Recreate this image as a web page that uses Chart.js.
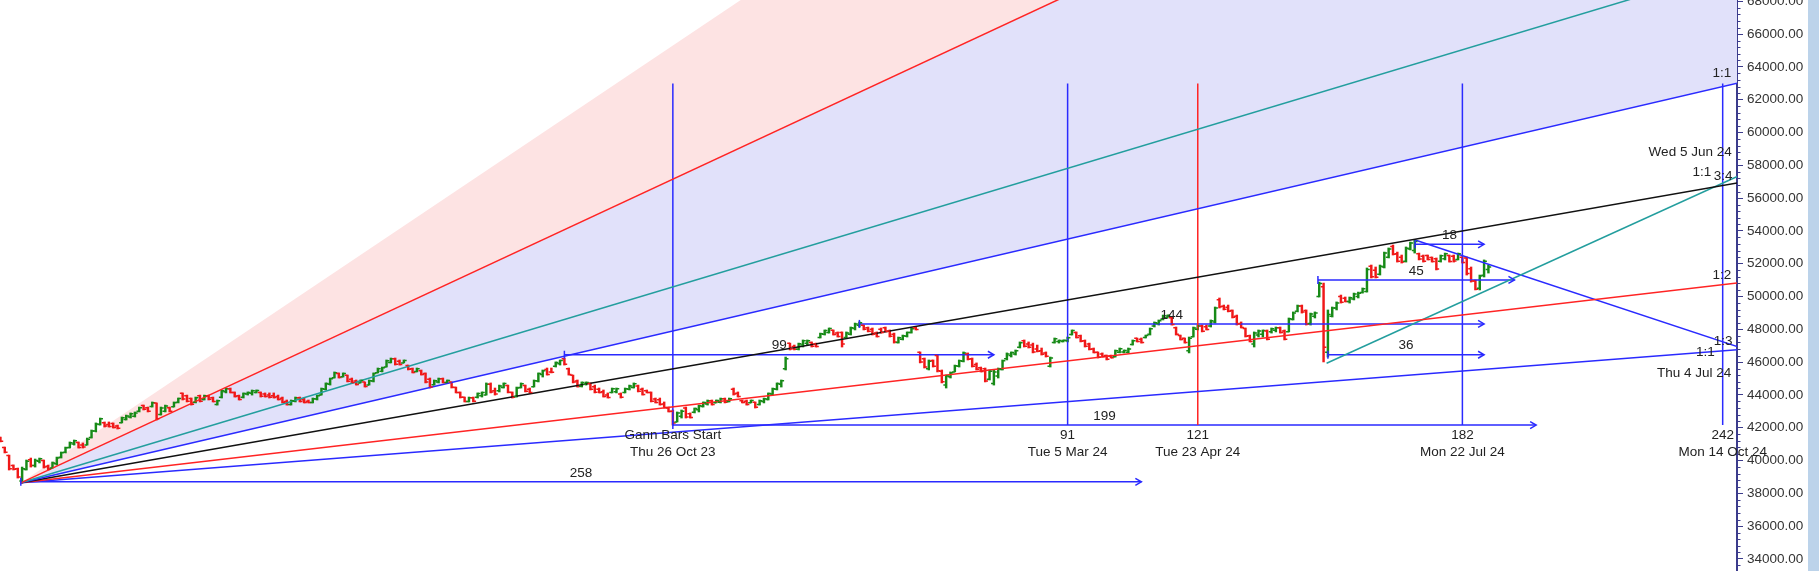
<!DOCTYPE html>
<html><head><meta charset="utf-8">
<script src="https://cdn.jsdelivr.net/npm/chart.js@4.4.1/dist/chart.umd.min.js"></script>
<style>
html,body{margin:0;padding:0;background:#fff;overflow:hidden}
#wrap{position:relative;width:1819px;height:571px}
#strip{position:absolute;left:1808px;top:0;width:11px;height:571px;background:#bcd3ea}
canvas{position:absolute;left:0;top:0}
</style></head><body>
<div id="wrap"><canvas id="c" width="1819" height="571"></canvas><div id="strip"></div></div>
<script>
// ---------------- DATA ----------------
const firstBar = -155; // bar index of the first OHLC bar (0 = Thu 26 Oct 23)
const opens = [
41400,40800,40300,39700,39500,38750,39450,40050,39700,39950,
40000,39650,39550,39800,40200,40500,40800,41000,41100,40950,
40950,41400,41800,42200,42300,42200,42250,42100,42300,42500,
42650,42700,43000,43350,43220,43300,43500,42800,43000,43220,
43280,43550,44100,43950,43780,43550,43950,43720,43950,43830,
43420,43850,44200,44380,44150,43950,43850,44050,44100,44150,
44150,44050,44000,43950,43900,43800,43600,43420,43620,43830,
43700,43620,43540,43750,43990,44350,44650,45050,45300,45100,
45200,44950,44850,44730,44780,44600,44850,45350,45450,45700,
45980,46200,46050,45950,45800,45600,45420,45480,45300,44950,
44620,44780,44980,44760,44780,44450,44150,43850,43600,43830,
43850,43950,44000,44650,44250,44250,44450,44580,44150,43900,
44450,44580,44350,44500,44850,45250,45550,45400,45750,45900,
46200,45600,45200,44850,44530,44650,44700,44500,44350,44200,
44000,44150,44200,44050,44150,44350,44450,44550,44350,44250,
44150,43750,43700,43450,43200,43000,42350,42700,43200,42850,
42950,43100,43300,43450,43650,43520,43550,43760,43600,44350,
44100,43650,43620,43520,43550,43420,43600,43720,44050,44350,
44650,45600,47150,46950,46780,47050,47150,47200,47100,47500,
47700,47800,47950,47780,47800,47500,47700,48050,48250,48250,
48100,48000,47780,48000,48100,47900,47700,47200,47400,47580,
47800,48100,46600,46200,45600,46100,46400,45450,44600,45100,
45400,45750,46050,46500,46200,45850,45650,45600,44950,44700,
45150,45550,46200,46400,46500,46900,47300,47100,47050,46800,
46700,46550,45750,47200,47250,47250,47300,47680,47800,47600,
47300,47100,46800,46600,46500,46400,46380,46330,46600,46620,
46600,47080,47450,47400,47500,47700,48200,48350,48620,48700,
48700,48100,47620,47450,46700,47550,48000,48200,48150,48200,
48450,49800,49400,49350,49150,48800,48350,48050,47600,47100,
47650,47700,47900,47850,47950,48100,47900,47850,48600,49100,
49420,49150,48350,48800,50000,50600,46600,48800,49300,50000,
49900,49700,49850,50000,50250,50300,51850,51600,51350,51800,
52400,53050,52600,52400,52150,52900,52800,52600,52450,52500,
52380,52300,52150,52300,52500,52450,52250,52400,52350,51700,
50950,50500,51300,51650];
const highs = [
41430,40820,40330,39730,39540,39600,40030,40150,40090,40150,
40030,39720,39910,40210,40520,40820,41130,41250,41130,41070,
41370,41860,42290,42590,42350,42350,42290,42160,42650,42770,
42900,42960,43260,43380,43260,43570,43510,43260,43380,43260,
43570,43810,44120,43990,43810,43870,43990,43990,43990,43870,
43690,44300,44420,44420,44180,43990,44120,44180,44300,44300,
44180,44120,44120,44120,43990,43870,43690,43690,43870,43870,
43810,43690,43810,43990,44420,44730,45030,45400,45340,45340,
45210,45030,44910,44910,44790,44910,45340,45640,45700,46130,
46250,46250,46130,46130,45820,45640,45640,45520,45340,45030,
44910,45030,45030,44910,44790,44480,44180,43870,43870,43870,
44120,44180,44730,44730,44420,44600,44730,44600,44180,44480,
44730,44600,44420,44910,45340,45520,45640,45640,46010,46130,
46250,45640,45210,44910,44790,44790,44730,44600,44420,44300,
44120,44420,44420,44120,44420,44600,44730,44600,44420,44300,
44180,43810,43810,43570,43260,43080,42960,43080,43260,42900,
43200,43380,43570,43690,43690,43690,43810,43810,43810,44420,
44180,43690,43690,43690,43570,43690,43810,44120,44420,44730,
44910,46310,47160,47040,47160,47350,47350,47230,47160,47770,
47960,48080,47960,47840,47840,47840,48140,48380,48450,48260,
48140,48080,47840,48080,48140,47960,47770,47530,47650,47840,
48080,48140,46620,46250,46130,46130,46430,45520,45210,45400,
45820,46130,46620,46560,46250,45950,45700,45640,45520,45520,
45640,46130,46560,46620,46740,47230,47350,47230,47160,47040,
46860,46620,46310,47470,47350,47350,47530,47960,47840,47650,
47350,47160,46860,46620,46560,46430,46430,46740,46860,46740,
46860,47350,47470,47470,47650,48080,48450,48570,48870,48870,
48750,48140,47650,47470,47530,48140,48260,48260,48260,48570,
49360,49910,49480,49480,49180,48870,48450,48080,47650,47840,
47960,47960,47960,48080,48140,48140,47960,48690,49060,49480,
49480,49180,48990,49060,50880,50820,49180,49360,49670,50090,
49970,49970,50210,50270,50520,51740,51920,51800,51920,52710,
52960,53140,52710,52530,53020,53320,53450,52650,52530,52530,
52410,52350,52530,52650,52530,52530,52650,52410,52410,51800,
51010,51310,52230,51920];
const lows = [
41130,40460,39420,39420,38930,38630,39420,39600,39600,39850,
39540,39420,39540,39720,40150,40460,40760,40940,40760,40760,
40940,41370,41740,42160,42040,42040,41980,41920,42290,42470,
42590,42650,42960,43080,42960,43260,42470,42770,42960,42960,
43260,43510,43690,43570,43380,43510,43570,43690,43690,43570,
43380,43810,44120,44120,43870,43690,43810,43990,43990,44120,
43870,43870,43810,43810,43690,43510,43380,43380,43570,43570,
43510,43510,43510,43690,43990,44300,44600,45030,45030,45090,
44790,44730,44600,44730,44480,44600,44790,45340,45400,45700,
45950,45820,45820,45950,45520,45340,45400,45210,44730,44420,
44600,44730,44730,44730,44420,44120,43810,43570,43570,43570,
43810,43870,43990,44120,43990,44180,44420,44120,43810,43870,
44420,44180,44120,44480,44790,45090,45210,45340,45700,45820,
45820,45210,44730,44480,44480,44600,44300,44120,44120,43870,
43810,44120,44120,43810,44120,44300,44420,44180,43990,44120,
43570,43510,43380,43200,42960,42160,42350,42590,42590,42590,
42900,42960,43260,43380,43380,43510,43510,43510,43570,43990,
43870,43510,43380,43510,43200,43380,43510,43690,43990,44300,
44480,45520,46740,46740,46740,46920,47040,46920,46920,47470,
47650,47770,47650,47530,46920,47470,47650,47960,48140,47960,
47840,47650,47530,47770,47840,47530,47160,47160,47350,47530,
47770,47960,45950,45640,45520,45700,45400,44730,44420,45030,
45400,45700,46010,46130,45700,45520,45400,44790,44910,44600,
45030,45520,46130,46310,46430,46860,46920,46860,46560,46620,
46430,46310,45700,47160,47160,47230,47230,47650,47470,47230,
46920,46740,46560,46250,46310,46130,46250,46310,46560,46560,
46560,47040,47230,47160,47470,47650,48140,48260,48570,48690,
48260,47650,47350,47160,46560,47530,47960,47840,47960,48140,
48380,49300,49180,49060,48690,48260,48080,47530,47230,46920,
47530,47530,47350,47770,47840,47770,47350,47840,48570,49060,
48990,48260,48260,48690,49970,46010,46310,48750,49180,49600,
49670,49600,49790,49910,50210,50270,51130,51130,51310,51740,
52350,52530,52100,52040,52100,52840,52650,52230,52100,52230,
52100,51620,52100,52230,52100,52100,52230,52040,51310,50880,
50400,50400,51190,51430];
const closes = [
41180,40500,39500,39460,39000,39500,39950,39700,40000,40100,
39600,39480,39850,40150,40480,40780,41080,41200,40800,40820,
41300,41800,42230,42550,42100,42080,42020,41960,42600,42720,
42850,42900,43220,43120,43000,43520,42550,43200,43330,43000,
43520,43780,43750,43620,43430,43820,43620,43950,43730,43600,
43650,44250,44380,44150,43900,43720,44080,44150,44250,44270,
43920,43900,43850,43840,43720,43550,43420,43650,43830,43600,
43540,43530,43770,43950,44380,44690,44980,45350,45060,45300,
44830,44760,44640,44880,44520,44870,45300,45600,45650,46080,
46200,45870,45860,46100,45560,45370,45600,45250,44780,44480,
44870,44990,44760,44880,44460,44150,43850,43600,43830,43620,
44080,44150,44650,44180,44050,44550,44690,44160,43860,44420,
44680,44220,44150,44870,45300,45480,45250,45380,45980,46100,
45870,45250,44780,44520,44760,44760,44340,44160,44140,43900,
43840,44380,44370,43850,44380,44550,44680,44220,44030,44140,
43610,43540,43420,43230,42990,42280,42900,43000,42650,42620,
43170,43340,43530,43650,43420,43660,43760,43550,43770,44050,
43900,43530,43420,43660,43240,43650,43770,44080,44380,44690,
44870,46200,46800,46780,47120,47300,47300,46960,46950,47730,
47920,48050,47690,47560,47100,47780,48100,48330,48400,48000,
47880,47700,47560,47800,47860,47580,47220,47480,47600,47800,
48040,47990,46000,45700,46050,45750,45480,44800,45150,45350,
45780,46080,46560,46170,45750,45560,45420,44850,45450,45400,
45580,46080,46500,46580,46700,47180,46970,46900,46620,46660,
46480,46350,46250,47420,47320,47330,47490,47920,47500,47270,
46970,46780,46590,46290,46340,46170,46270,46700,46820,46710,
46800,47300,47260,47200,47620,48030,48400,48520,48820,48850,
48300,47700,47380,47200,47450,48080,48200,47880,47990,48520,
49300,49380,49220,49100,48740,48320,48110,47580,47260,47780,
47900,47920,47400,48030,48100,47800,47400,48640,49000,49420,
49050,48320,48930,49000,50800,46900,48900,49300,49600,49650,
49700,49920,50150,50200,50480,51650,51200,51180,51850,52650,
52900,52580,52150,52100,52950,53260,53350,52280,52150,52260,
52130,51680,52480,52600,52140,52160,52600,52080,51400,50950,
50450,51250,52150,51800];

// price-axis tick labels
const yTickValues = [34000,36000,38000,40000,42000,44000,46000,48000,50000,
  52000,54000,56000,58000,60000,62000,64000,66000,68000];

// Gann fan from the March 2023 low
const fanOriginBar = -150.3;
const fanOriginValue = 38640;
const fanUnit = 61.6;                       // points per bar of the 1:1 line
const fanRatios = [2.88, 2, 1.29, 1, 0.75, 0.5, 0.333];
// second fan lines (Wed 5 Jun 24 low, Thu 4 Jul 24 high)
const fan2Bar = 150.7, fan2Value = 45930, fan2Slope = 120.3;
const fan3Bar = 171.1, fan3Value = 53450, fan3Slope = -87.6;

// vertical Gann bar markers
const vBars = [0, 91, 121, 182, 242];
const vTitles = ['Gann Bars Start', '91', '121', '182', '242'];
const vDates = ['Thu 26 Oct 23', 'Tue 5 Mar 24', 'Tue 23 Apr 24', 'Mon 22 Jul 24', 'Mon 14 Oct 24'];
const vTop = 62990, vBottom = 42160;

// horizontal bar-count arrows
const arrowStarts = [-150.3, 0, -25, 43, 148.7, 171.1, 151];
const arrowEnds   = [108, 199, 74, 187, 194, 187, 187];
const arrowLevels = [38700, 42160, 46450, 48330, 51010, 53180, 46450];
const arrowLabels = ['258', '199', '99', '144', '45', '18', '36'];

// labels at the right end of the fan lines
const endLabelBars   = [241.8, 234.5, 237.2, 242.1, 241.8, 242.1, 238.0, 235.4];
const endLabelValues = [63630, 58800, 57600, 57350, 51310, 47290, 46620, 45335];
const endLabelTexts  = ['1:1', 'Wed 5 Jun 24', '1:1', '3:4', '1:2', '1:3', '1:1', 'Thu 4 Jul 24'];

// ---------------- STYLE ----------------
const GREEN = '#178a17', RED_BAR = '#f01818';
const BLUE = '#2a2aff', RED = '#ff2424', TEAL = '#239e9e', BLACK = '#111111';
const FONT = '"Liberation Sans", Arial, sans-serif';
const TXT = '#222222';

const fanColors = ['rgba(0,0,0,0)', RED, TEAL, BLUE, BLACK, RED, BLUE];
const yMin = 33262, yMax = 68081, xMin = -155.1, xMax = 245.3;
const farBar = 275;

const datasets = [];
fanRatios.forEach((r, k) => {
  const ds = {
    type: 'line', order: 1,
    data: [{x: fanOriginBar, y: fanOriginValue},
           {x: farBar, y: fanOriginValue + r * fanUnit * (farBar - fanOriginBar)}],
    borderColor: fanColors[k], borderWidth: k === 0 ? 0 : 1.5,
    pointRadius: 0, fill: false, tension: 0
  };
  if (k === 0) { ds.fill = '+1'; ds.backgroundColor = '#fde3e3'; }
  if (k === 1) { ds.fill = 3; ds.backgroundColor = '#e1e1fa'; }
  datasets.push(ds);
});
datasets.push({type:'line', order:1, data:[{x:fan2Bar,y:fan2Value},{x:farBar,y:fan2Value+fan2Slope*(farBar-fan2Bar)}],
  borderColor: TEAL, borderWidth: 1.5, pointRadius: 0, fill: false});
datasets.push({type:'line', order:1, data:[{x:fan3Bar,y:fan3Value},{x:farBar,y:fan3Value+fan3Slope*(farBar-fan3Bar)}],
  borderColor: BLUE, borderWidth: 1.5, pointRadius: 0, fill: false});
vBars.forEach((b, k) => {
  datasets.push({type:'line', order:1, data:[{x:b,y:vTop},{x:b,y:vBottom}],
    borderColor: k === 2 ? RED : BLUE, borderWidth: 1.5, pointRadius: 0, fill: false});
});
arrowStarts.forEach((s, k) => {
  datasets.push({type:'line', order:1, data:[{x:s,y:arrowLevels[k]},{x:arrowEnds[k],y:arrowLevels[k]}],
    borderColor: BLUE, borderWidth: 1.5, pointRadius: 0, fill: false});
});
const barX = opens.map((_, i) => firstBar + i);
datasets.push({
  type: 'bar', order: 10, grouped: false,
  data: barX.map((b, i) => ({x: b, y: [lows[i], highs[i]]})),
  backgroundColor: opens.map((o, i) => closes[i] >= o ? GREEN : RED_BAR),
  barThickness: 1.8, borderWidth: 0
});

const ohlcTicks = {
  id: 'ohlcTicks',
  afterDatasetsDraw(chart) {
    const {ctx, chartArea: a, scales: {x, y}} = chart;
    ctx.save();
    ctx.beginPath(); ctx.rect(a.left, a.top, a.right - a.left, a.bottom - a.top); ctx.clip();
    ctx.lineWidth = 1.5;
    opens.forEach((o, i) => {
      const px = x.getPixelForValue(barX[i]);
      const yo = y.getPixelForValue(o), yc = y.getPixelForValue(closes[i]);
      ctx.strokeStyle = closes[i] >= o ? GREEN : RED_BAR;
      ctx.beginPath();
      ctx.moveTo(px - 2.8, yo); ctx.lineTo(px, yo);
      ctx.moveTo(px, yc); ctx.lineTo(px + 2.8, yc);
      ctx.stroke();
    });
    // arrow heads and start ticks
    ctx.strokeStyle = BLUE; ctx.lineWidth = 1.5;
    arrowStarts.forEach((s, k) => {
      const xs = x.getPixelForValue(s), xe = x.getPixelForValue(arrowEnds[k]);
      const yy = y.getPixelForValue(arrowLevels[k]);
      ctx.beginPath(); ctx.moveTo(xs, yy - 4); ctx.lineTo(xs, yy + 4); ctx.stroke();
      ctx.beginPath(); ctx.moveTo(xe - 6, yy - 3.5); ctx.lineTo(xe, yy); ctx.lineTo(xe - 6, yy + 3.5); ctx.stroke();
    });
    ctx.restore();
  },
  afterDraw(chart) {
    const {ctx, scales: {x, y}} = chart;
    ctx.save();
    // minor ticks on the price axis
    ctx.strokeStyle = '#3c3c8c'; ctx.lineWidth = 1;
    for (let v = 33600; v <= 68000; v += 400) {
      if (v % 2000 === 0) continue;
      const py = Math.round(y.getPixelForValue(v)) + 0.5;
      ctx.beginPath(); ctx.moveTo(x.right, py); ctx.lineTo(x.right + 3.5, py); ctx.stroke();
    }
    ctx.font = '13.5px ' + FONT; ctx.fillStyle = TXT;
    ctx.textAlign = 'center'; ctx.textBaseline = 'middle';
    arrowStarts.forEach((s, k) => {
      const xs = x.getPixelForValue(s), xe = x.getPixelForValue(arrowEnds[k]);
      ctx.fillText(arrowLabels[k], (xs + xe) / 2, y.getPixelForValue(arrowLevels[k]) - 9);
    });
    vBars.forEach((b, k) => {
      const px = x.getPixelForValue(b), pb = y.getPixelForValue(vBottom);
      ctx.fillText(vTitles[k], px, pb + 10);
      ctx.fillText(vDates[k], px, pb + 27);
    });
    endLabelTexts.forEach((t, k) => {
      ctx.fillText(t, x.getPixelForValue(endLabelBars[k]), y.getPixelForValue(endLabelValues[k]));
    });
    ctx.restore();
  }
};

new Chart(document.getElementById('c'), {
  type: 'line',
  data: {datasets},
  options: {
    responsive: false, devicePixelRatio: 1, animation: false, events: [],
    layout: {padding: 0},
    plugins: {legend: {display: false}, tooltip: {enabled: false}, filler: {drawTime: 'beforeDatasetsDraw'}},
    scales: {
      x: {type: 'linear', min: xMin, max: xMax, display: false, offset: false},
      y: {
        type: 'linear', position: 'right', min: yMin, max: yMax,
        border: {display: true, color: '#3c3c8c', width: 2},
        grid: {display: true, drawOnChartArea: false, drawTicks: true, tickLength: 6, tickColor: '#3c3c8c', tickWidth: 1},
        ticks: {autoSkip: false, padding: 4, color: '#333',
                font: {size: 13.5, family: FONT}, callback: v => Number(v).toFixed(2)},
        afterBuildTicks(s) { s.ticks = yTickValues.map(v => ({value: v})); },
        afterFit(s) { s.width = 82; s.paddingTop = 0; s.paddingBottom = 0; }
      }
    }
  },
  plugins: [ohlcTicks]
});
</script>
</body></html>
